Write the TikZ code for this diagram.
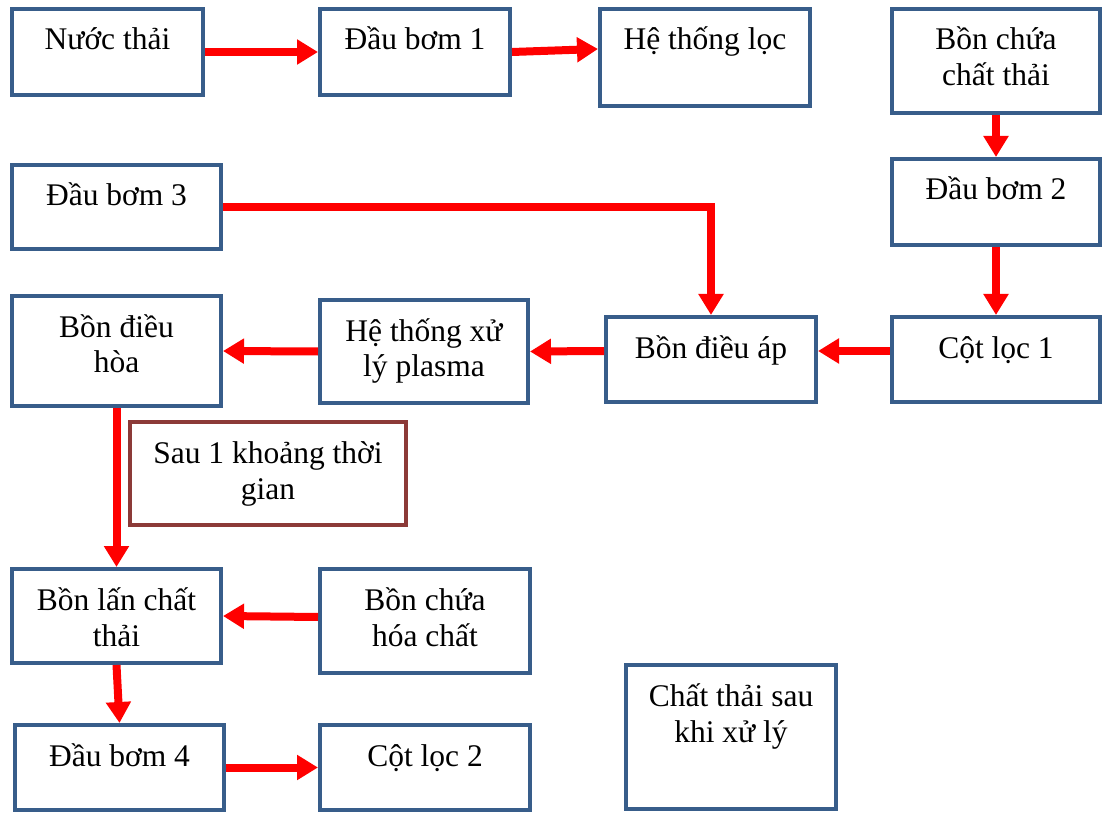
\documentclass[tikz,border=0pt]{standalone}
\usepackage{fontspec}
\setmainfont{Liberation Serif}
\usetikzlibrary{arrows.meta}
\definecolor{boxblue}{RGB}{56,93,138}
\definecolor{boxbrown}{RGB}{140,58,56}
% fixed-size box content: text hangs from the top edge, first baseline 41pt down
\newcommand{\boxtext}[3]{\parbox[c][#2][t]{#1}{\centering\fontsize{31.5}{36}\selectfont\lineskiplimit=-20pt\rule{0pt}{41pt}#3}}
\begin{document}
\begin{tikzpicture}[x=1pt,y=-1pt,
  box/.style={draw=boxblue, line width=4pt, fill=white, inner sep=0pt},
  notebox/.style={box, draw=boxbrown},
  arr/.style={draw=red, line width=8pt, -{Triangle[length=21pt,width=24pt]}}]
\useasboundingbox (0,0) rectangle (1104,813);

% top row
\node[box] (nuoc)   at (107.5,52)  {\boxtext{191pt}{86pt}{Nước thải}};
\node[box] (bom1)   at (415,52)    {\boxtext{190pt}{86pt}{Đầu bơm 1}};
\node[box] (loc)    at (705,57.5)  {\boxtext{210pt}{97pt}{Hệ thống lọc}};
\node[box] (bonchua) at (996,61)   {\boxtext{208pt}{104pt}{Bồn chứa\\chất thải}};

% right column
\node[box] (bom2)   at (996,202)   {\boxtext{208pt}{86pt}{Đầu bơm 2}};
\node[box] (cot1)   at (996,359.5) {\boxtext{208pt}{85pt}{Cột lọc 1}};

% middle rows
\node[box] (bom3)   at (116.5,207) {\boxtext{209pt}{84pt}{Đầu bơm 3}};
\node[box] (dieuhoa) at (116.5,351) {\boxtext{209pt}{110pt}{Bồn điều\\hòa}};
\node[box] (plasma) at (424,351.5) {\boxtext{208pt}{103pt}{Hệ thống xử\\lý plasma}};
\node[box] (dieuap) at (711,359.5) {\boxtext{210pt}{85pt}{Bồn điều áp}};
\node[notebox] (sau) at (268,473.5) {\boxtext{276pt}{103pt}{Sau 1 khoảng thời\\gian}};

% bottom rows
\node[box] (bonlan) at (116.5,616) {\boxtext{209pt}{94pt}{Bồn lấn chất\\thải}};
\node[box] (hoachat) at (425,621)  {\boxtext{210pt}{104pt}{Bồn chứa\\hóa chất}};
\node[box] (chatthai) at (731,737) {\boxtext{210pt}{144pt}{Chất thải sau\\khi xử lý}};
\node[box] (bom4)   at (119.5,767.5) {\boxtext{209pt}{85pt}{Đầu bơm 4}};
\node[box] (cot2)   at (425,767.5) {\boxtext{210pt}{85pt}{Cột lọc 2}};

% flow
\draw[arr] (nuoc.east) -- (bom1.west);
\draw[arr] (bom1.east) -- ([yshift=8.5pt]loc.west);
\draw[arr] (bonchua.south) -- (bom2.north);
\draw[arr] (bom2.south) -- (cot1.north);
\draw[arr] ([yshift=8.5pt]cot1.west) -- ([yshift=8.5pt]dieuap.east);
\draw[arr] (bom3.east) -| (dieuap.north);
\draw[arr] ([yshift=8.5pt]dieuap.west) -- (plasma.east);
\draw[arr] (plasma.west) -- (dieuhoa.east);
\draw[arr] (dieuhoa.south) -- (bonlan.north);
\draw[arr] ([yshift=4pt]hoachat.west) -- (bonlan.east);
\draw[arr] (bonlan.south) -- (bom4.north);
\draw[arr] (bom4.east) -- (cot2.west);
\end{tikzpicture}
\end{document}
